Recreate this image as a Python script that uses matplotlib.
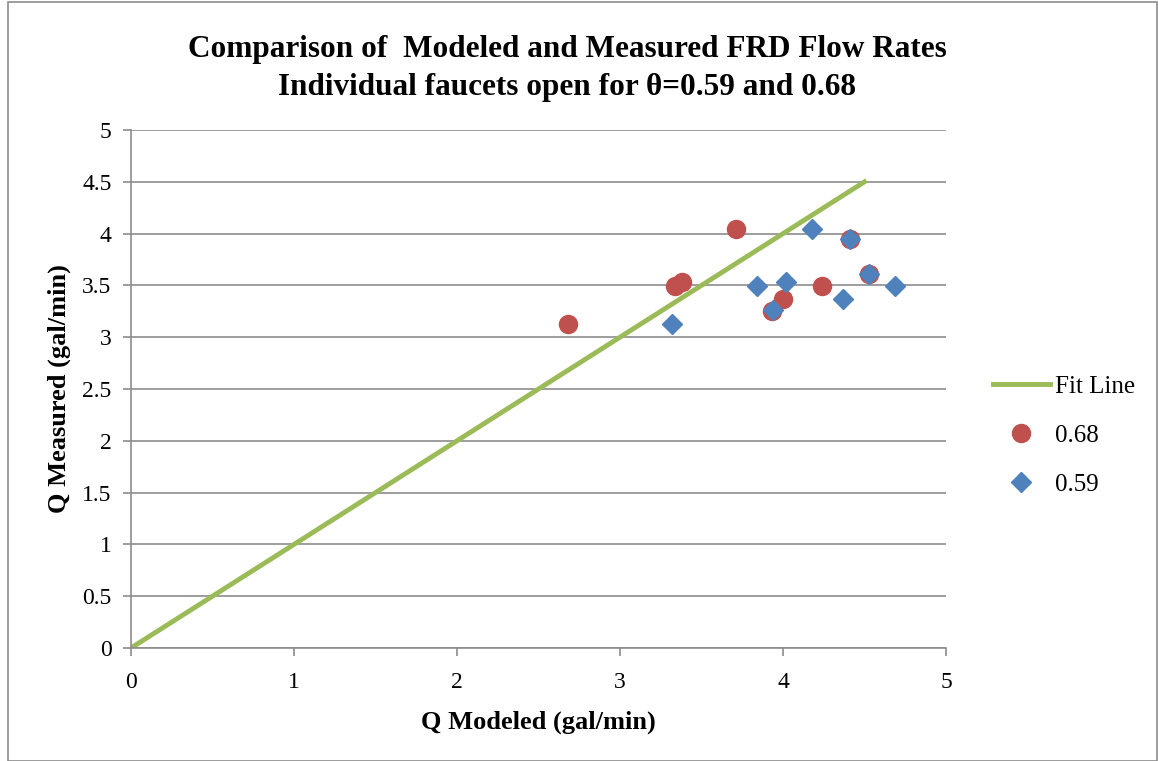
import matplotlib.pyplot as plt
from matplotlib.patches import Rectangle

# data
fit_x = [0, 4.5]
fit_y = [0, 4.5]

q_mod_068 = [2.68, 3.34, 3.38, 3.71, 3.93, 4.00, 4.24, 4.41, 4.53]
q_meas_068 = [3.13, 3.49, 3.53, 4.04, 3.25, 3.37, 3.49, 3.95, 3.61]

q_mod_059 = [3.32, 3.84, 3.94, 4.02, 4.18, 4.37, 4.41, 4.53, 4.69]
q_meas_059 = [3.13, 3.49, 3.26, 3.53, 4.04, 3.37, 3.95, 3.61, 3.49]

ticks = [0, 0.5, 1, 1.5, 2, 2.5, 3, 3.5, 4, 4.5, 5]

plt.rcParams['font.family'] = ['Liberation Serif', 'DejaVu Serif']

fig = plt.figure(figsize=(11.58, 7.61), dpi=100)
fig.patches.append(Rectangle((8 / 1158, 0), 1 - 9 / 1158, 1 - 2 / 761, transform=fig.transFigure,
                             fill=False, edgecolor="#8c8c8c", linewidth=1.2))
ax = fig.add_axes([131 / 1158, 1 - 648 / 761, (946 - 131) / 1158, (648 - 130) / 761])

ax.plot(fit_x, fit_y, color="#9BBB59", linewidth=3.5, label="Fit Line", zorder=2)
ax.plot(q_mod_068, q_meas_068, linestyle="none", marker="o", markersize=13,
        color="#C0504D", label="0.68", zorder=3)
ax.plot(q_mod_059, q_meas_059, linestyle="none", marker="D", markersize=10,
        color="#4F81BD", label="0.59", zorder=4)

ax.set_xlim(0, 5)
ax.set_ylim(0, 5)
ax.set_yticks(ticks)
ax.set_yticklabels(["0", "0.5", "1", "1.5", "2", "2.5", "3", "3.5", "4", "4.5", "5"])
ax.set_xticks([0, 1, 2, 3, 4, 5])
ax.grid(axis="y", color="#8c8c8c", linewidth=1.2)
ax.set_axisbelow(True)
for s in ["top", "right"]:
    ax.spines[s].set_visible(False)
for s in ["left", "bottom"]:
    ax.spines[s].set_color("#8c8c8c")
    ax.spines[s].set_linewidth(1.2)
ax.tick_params(axis="both", labelsize=17, color="#8c8c8c", length=6, width=1.2)
ax.tick_params(axis="x", pad=11)
ax.tick_params(axis="y", pad=8)

ax.set_xlabel("Q Modeled (gal/min)", fontsize=19, fontweight="bold", labelpad=13)
ax.set_ylabel("Q Measured (gal/min)", fontsize=19, fontweight="bold", labelpad=8)
fig.text(0.49, 1 - 50 / 761, "Comparison of  Modeled and Measured FRD Flow Rates",
         ha="center", va="center", fontsize=22.5, fontweight="bold")
fig.text(0.49, 1 - 87 / 761, "Individual faucets open for \u03b8=0.59 and 0.68",
         ha="center", va="center", fontsize=22.5, fontweight="bold")

ax.legend(loc="center left", bbox_to_anchor=(1.045, 0.41), frameon=False, fontsize=18,
          handlelength=2.3, labelspacing=1.05, handletextpad=0.2, borderaxespad=0)

fig.savefig("out.png", dpi=100)
